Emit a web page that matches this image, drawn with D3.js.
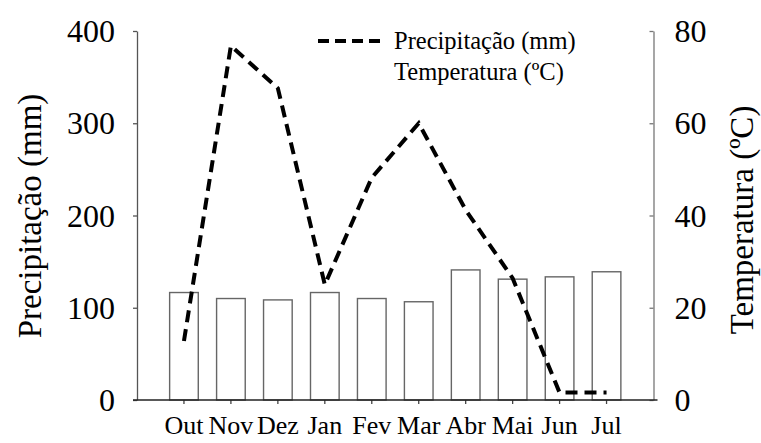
<!DOCTYPE html>
<html>
<head>
<meta charset="utf-8">
<script src="https://cdn.jsdelivr.net/npm/d3@7"></script>
<style>
  body { margin: 0; background: #fff; }
  text { font-family: "Liberation Serif", "Times New Roman", serif; fill: #000; }
</style>
</head>
<body>
<div id="chart"></div>
<script>
// data
let months = ["Out", "Nov", "Dez", "Jan", "Fev", "Mar", "Abr", "Mai", "Jun", "Jul"];
let precip = [64, 384, 338, 125, 241, 300, 206, 132, 8, 8];          // mm, dashed line
let temp = [23.3, 22.0, 21.7, 23.3, 22.0, 21.3, 28.2, 26.2, 26.7, 27.8]; // ºC, bars
let precipTicks = [0, 100, 200, 300, 400];
let tempTicks = [0, 20, 40, 60, 80];

let width = 761;
let height = 443;
let plotLeft = 137, plotRight = 653.5, plotTop = 31, plotBottom = 400;

let svg = d3.select("#chart")
    .append("svg")
    .attr("width", width)
    .attr("height", height);

let x = d3.scaleBand()
    .domain(months)
    .range([plotLeft, plotRight])
    .paddingInner(0.39)
    .paddingOuter(0.695);

let yP = d3.scaleLinear().domain([0, 400]).range([plotBottom, plotTop]);
let yT = d3.scaleLinear().domain([0, 80]).range([plotBottom, plotTop]);

//bars for temperature
svg.selectAll("rect.bar")
    .data(temp)
    .enter().append("rect")
    .attr("class", "bar")
    .attr("x", (d, i) => x(months[i]))
    .attr("y", (d) => yT(d))
    .attr("width", x.bandwidth())
    .attr("height", (d) => yT(0) - yT(d))
    .style("fill", "#fff")
    .style("stroke", "#666")
    .style("stroke-width", 1.4);

// left axis
let axL = svg.append("g")
    .attr("transform", "translate(" + plotLeft + ",0)")
    .call(d3.axisLeft(yP).tickValues(precipTicks).tickSize(4).tickSizeOuter(0).tickPadding(18));
axL.select(".domain").attr("stroke", "#555").attr("stroke-width", 1.3);
axL.selectAll(".tick line").attr("stroke", "#555").attr("stroke-width", 1.3);
axL.selectAll(".tick text")
    .style("font-size", "32px")
    .style("font-family", "Liberation Serif, serif")
    .attr("dy", "0.33em");

// right axis, ticks pointing inward
let axR = svg.append("g")
    .attr("transform", "translate(" + plotRight + ",0)")
    .call(d3.axisRight(yT).tickValues(tempTicks).tickSize(-4).tickSizeOuter(0).tickPadding(21));
axR.select(".domain").attr("stroke", "#777").attr("stroke-width", 1.3);
axR.selectAll(".tick line").attr("stroke", "#777").attr("stroke-width", 1.3);
axR.selectAll(".tick text")
    .style("font-size", "32px")
    .style("font-family", "Liberation Serif, serif")
    .attr("dy", "0.33em");

// bottom axis
let axB = svg.append("g")
    .attr("transform", "translate(0," + plotBottom + ")")
    .call(d3.axisBottom(x).tickSize(4).tickSizeOuter(0).tickPadding(12));
axB.select(".domain").remove();
axB.selectAll(".tick line").attr("stroke", "#444").attr("stroke-width", 1.3);
axB.selectAll(".tick text")
    .style("font-size", "26px")
    .style("font-family", "Liberation Serif, serif");
svg.append("line")
    .attr("x1", plotLeft - 4).attr("x2", plotRight + 4)
    .attr("y1", plotBottom).attr("y2", plotBottom)
    .attr("stroke", "#222").attr("stroke-width", 1.5);

// precipitation dashed line
let line = d3.line()
    .x((d, i) => x(months[i]) + x.bandwidth() / 2)
    .y((d) => yP(d));

svg.append("path")
    .datum(precip)
    .attr("d", line)
    .style("fill", "none")
    .style("stroke", "#000")
    .style("stroke-width", 4)
    .style("stroke-dasharray", "12,7");

// axis titles
svg.append("text")
    .attr("transform", "translate(41,216) rotate(-90)")
    .attr("text-anchor", "middle")
    .style("font-size", "33px")
    .text("Precipitação (mm)");

svg.append("text")
    .attr("transform", "translate(753,220) rotate(-90)")
    .attr("text-anchor", "middle")
    .style("font-size", "33px")
    .text("Temperatura (ºC)");

// legend
svg.append("line")
    .attr("x1", 318).attr("x2", 382)
    .attr("y1", 41).attr("y2", 41)
    .style("stroke", "#000")
    .style("stroke-width", 4)
    .style("stroke-dasharray", "11,6");

svg.append("text")
    .attr("x", 394).attr("y", 49)
    .style("font-size", "24.5px")
    .text("Precipitação (mm)");

svg.append("text")
    .attr("x", 394).attr("y", 80)
    .style("font-size", "24.5px")
    .text("Temperatura (ºC)");
</script>
</body>
</html>
